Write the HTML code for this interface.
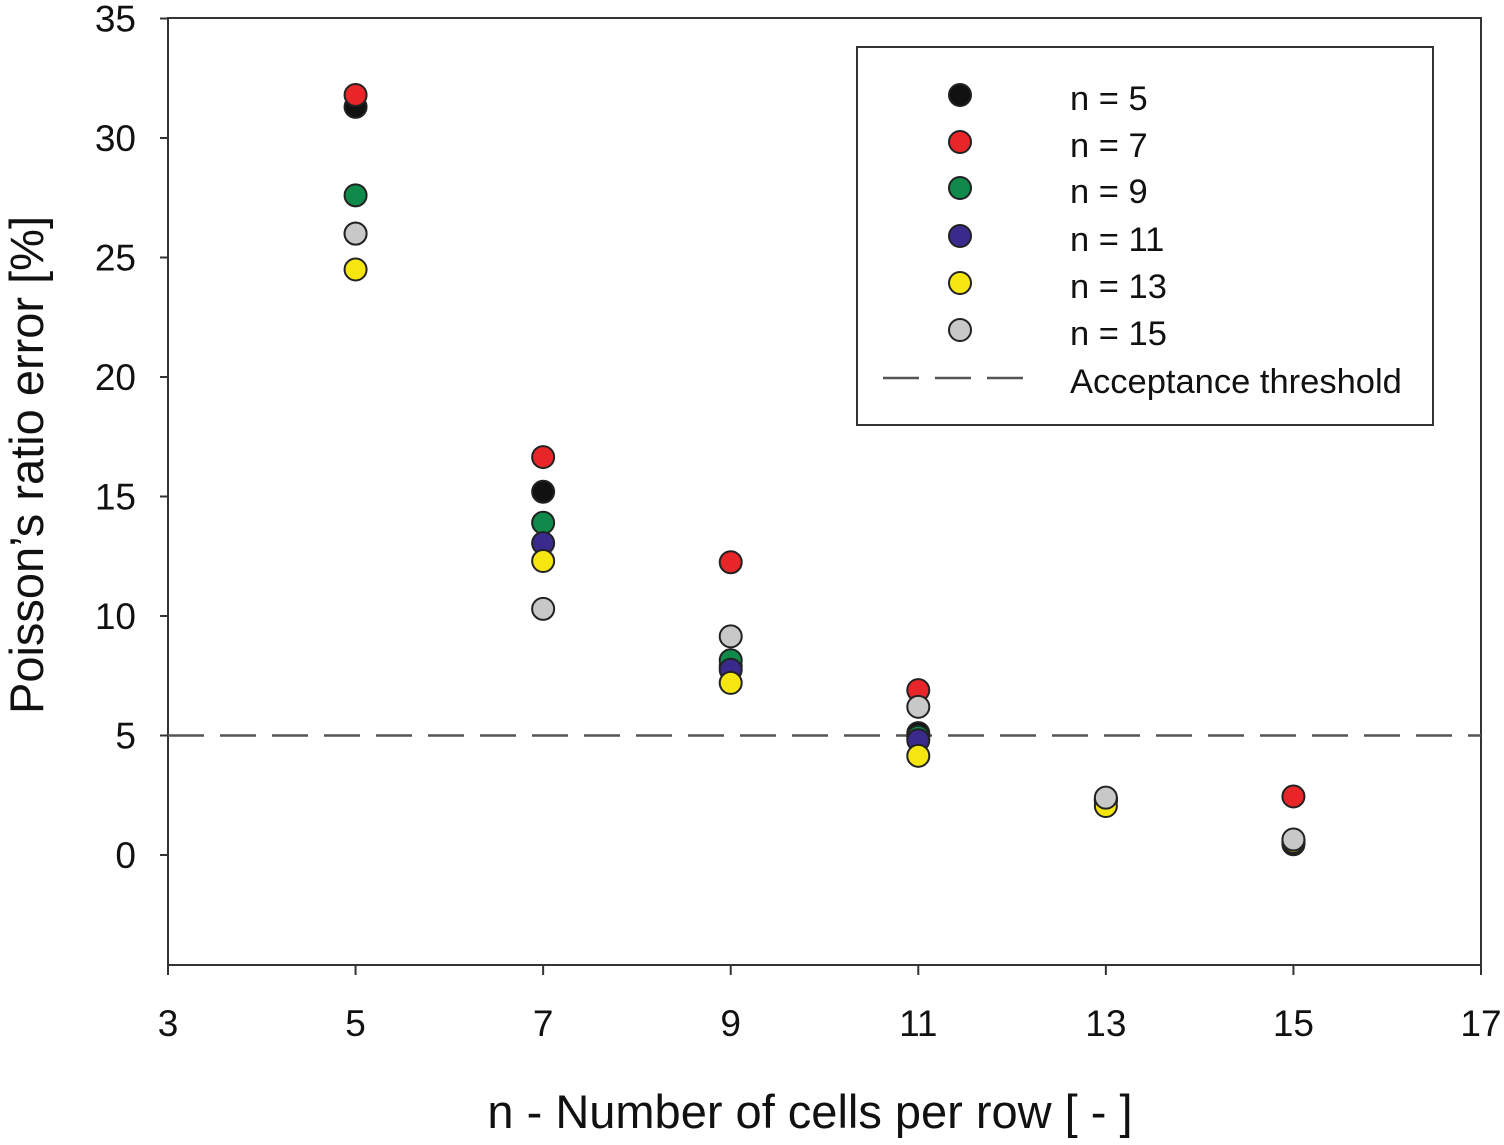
<!DOCTYPE html>
<html><head><meta charset="utf-8"><style>
body{margin:0;background:#fff}
svg text{font-family:"Liberation Sans",sans-serif;fill:#111}
</style></head><body>
<svg id="chart" width="1504" height="1140" viewBox="0 0 1504 1140" xmlns="http://www.w3.org/2000/svg">
<rect x="168" y="18" width="1313" height="947" fill="#fff" stroke="#333" stroke-width="2"/>
<g id="axes"></g>
<g id="marks"></g>
<text transform="translate(43,465) rotate(-90)" text-anchor="middle" font-size="47">Poisson’s ratio error [%]</text>
<text x="810" y="1128" text-anchor="middle" font-size="47">n - Number of cells per row [ - ]</text>
<g id="legend"></g>
</svg>
<script>
const categories=[5,7,9,11,13,15];
const seriesNames=["n = 5","n = 7","n = 9","n = 11","n = 13","n = 15"];
const seriesColors=["#111111","#e8262a","#0f8a4a","#3a2a8c","#f5e60f","#c8c8c8"];
const s5=[31.3,15.2,7.9,5.1,2.3,0.45];
const s7=[31.8,16.65,12.25,6.9,2.35,2.45];
const s9=[27.6,13.9,8.15,4.95,2.3,0.55];
const s11=[26.0,13.05,7.75,4.8,2.25,0.55];
const s13=[24.5,12.3,7.2,4.15,2.05,0.55];
const s15=[26.0,10.3,9.15,6.2,2.4,0.65];
const seriesValues=[s5,s7,s9,s11,s13,s15];
const xTicks=[3,5,7,9,11,13,15,17];
const yTicks=[0,5,10,15,20,25,30,35];
const threshold=5;
const NS="http://www.w3.org/2000/svg";
const X0=168,X1=1481,Y0=855,PY=23.9;
const xs=v=>X0+(v-3)*(X1-X0)/14;
const ys=v=>Y0-v*PY;
function mk(t,a,p){const e=document.createElementNS(NS,t);for(const k in a)e.setAttribute(k,a[k]);p.appendChild(e);return e;}
const axes=document.getElementById('axes');
yTicks.forEach(t=>{
  const l=mk('line',{x1:X0-8,x2:X0,y1:ys(t),y2:ys(t),stroke:'#333','stroke-width':2},axes);
  
  
  const tx=mk('text',{x:X0-32,y:ys(t)+13,'text-anchor':'end','font-size':37},axes);
  tx.textContent=t;
  
  
});
xTicks.forEach(t=>{
  const l=mk('line',{x1:xs(t),x2:xs(t),y1:965,y2:975,stroke:'#333','stroke-width':2},axes);
  
  
  const tx=mk('text',{x:xs(t),y:1036,'text-anchor':'middle','font-size':37},axes);
  tx.textContent=t;
  
  
});
const th=mk('line',{x1:X0,x2:X1,y1:ys(threshold),y2:ys(threshold),stroke:'#555','stroke-width':2.5,'stroke-dasharray':'36,16'},axes);


const marks=document.getElementById('marks');
seriesValues.forEach((vals,si)=>{
  vals.forEach((v,i)=>{
    const c=mk('circle',{cx:xs(categories[i]),cy:ys(v),r:11,fill:seriesColors[si],stroke:'#222','stroke-width':2},marks);
    
    
  });
});
const lg=document.getElementById('legend');
mk('rect',{x:857,y:47,width:576,height:378,fill:'#fff',stroke:'#333','stroke-width':2},lg);
const rowsY=[95,142,188,236,283,330];
seriesNames.forEach((n,i)=>{
  const c=mk('circle',{cx:960,cy:rowsY[i],r:11,fill:seriesColors[i],stroke:'#222','stroke-width':2},lg);
  
  
  const t=mk('text',{x:1070,y:rowsY[i]+15,'font-size':34.5},lg);
  t.textContent=n;
  
  
});
const ll=mk('line',{x1:883,x2:1025,y1:378,y2:378,stroke:'#555','stroke-width':2.5,'stroke-dasharray':'36,16'},lg);


const lt=mk('text',{x:1070,y:393,'font-size':34.5},lg);
lt.textContent='Acceptance threshold';


</script>
</body></html>
